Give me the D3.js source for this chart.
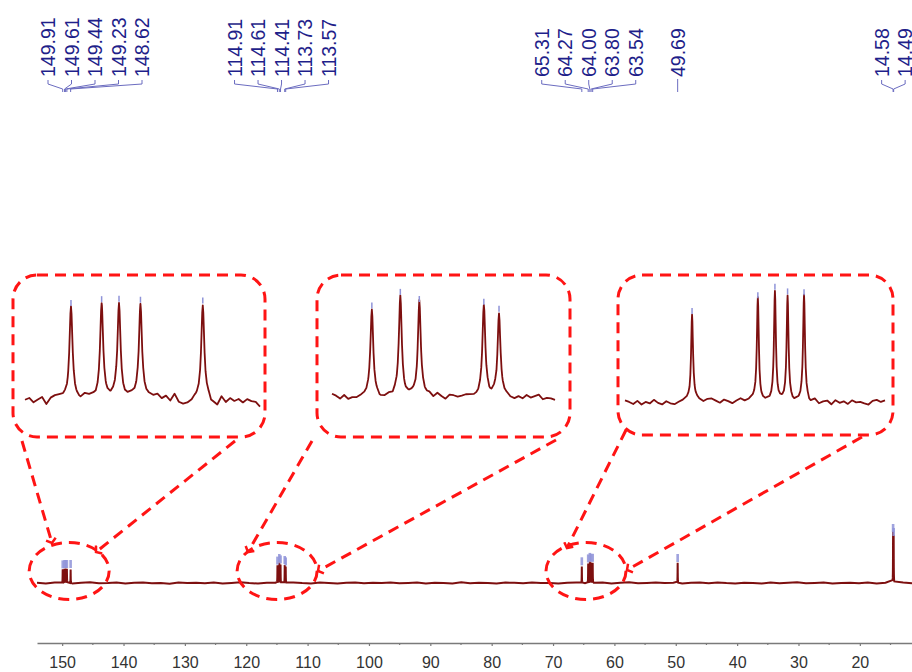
<!DOCTYPE html>
<html>
<head>
<meta charset="utf-8">
<script src="https://cdn.jsdelivr.net/npm/d3@7"></script>
<style>
  body { margin: 0; background: #fff; }
  svg { display: block; font-family: Arial, "Liberation Sans", sans-serif; }
</style>
</head>
<body>
<div id="chart"></div>
<script>
// picked peaks (ppm), intensity, label group
const peakPpm = [149.91, 149.61, 149.44, 149.23, 148.62,
  114.91, 114.61, 114.41, 113.73, 113.57,
  65.31, 64.27, 64.00, 63.80, 63.54,
  49.69,
  14.58, 14.49];
const peakHeight = [13.6, 14, 14, 14, 14,
  17.4, 20, 18.6, 18, 16.6,
  16.7, 19.6, 21.1, 20.2, 20.2,
  20,
  50, 46];
const peakGroup = [0, 0, 0, 0, 0, 1, 1, 1, 1, 1, 2, 2, 2, 2, 2, 3, 4, 4];
const peakLabels = ["149.91", "149.61", "149.44", "149.23", "148.62",
  "114.91", "114.61", "114.41", "113.73", "113.57",
  "65.31", "64.27", "64.00", "63.80", "63.54",
  "49.69",
  "14.58", "14.49"];

const axisTicks = [150, 140, 130, 120, 110, 100, 90, 80, 70, 60, 50, 40, 30, 20];
const minorTicks = [145, 135, 125, 115, 105, 95, 85, 75, 65, 55, 45, 35, 25, 15];

// baseline noise (intensity units)
const noiseMain = [0.2, -0.4, 0.5, 0.1, -0.6, 0.3, 0.8, -0.2, 0.0, 0.4, -0.5, 0.2, 0.6, -0.3, 0.1, -0.7, 0.4, 0.0, 0.3, -0.2,
  0.5, -0.4, 0.1, 0.7, -0.1, -0.5, 0.3, 0.2, -0.3, 0.6, 0.0, -0.4, 0.4, 0.1, -0.6, 0.2, 0.5, -0.2, 0.3, -0.1,
  0.6, -0.3, 0.0, 0.4, -0.5, 0.2, 0.1, -0.4, 0.7, -0.2, 0.3, 0.0, -0.6, 0.4, 0.2, -0.3, 0.5, -0.1, 0.1, -0.5,
  0.3, 0.6, -0.2, 0.0, 0.4, -0.4, 0.2, 0.8, -0.3, 0.1, 0.5, -0.1, 0.3, -0.6, 0.2, 0.4, -0.2, 0.6, 0.0, -0.4,
  0.3, 0.1, -0.5, 0.5, -0.2, 0.2, 0.7, -0.3, 0.0, 0.4, -0.4, 0.1, 0.3, -0.2, 0.5, -0.5, 0.2, 0.0, 0.4, -0.3];
const noiseInset1 = [0, 0.25, -0.4, 0, 0.35, -0.7, 0.2, 0.5, 0.5, 0.3, 0, 0.1, 0, -0.1, 0.6, 0.4, 0.3, 0, 0, 0.1,
  0.1, 0.3, 0, 0, 0.2, 0.5, 0.3, 0, 0.3, 0.4, 0.4, 0.7, 0.1, 0.5, -0.2, 0.8, -0.4, -0.7, -0.6, -0.3,
  0.1, 0, -0.1, 0.1, -0.6, -0.9, 0.4, -0.4, 0.2, -0.2, 0.1, -0.4, 0.1, -0.2, -0.3, -1.0];
const noiseInset2 = [0.6, 0.2, -0.4, 0.3, -0.5, -0.2, -0.3, 0, 0.2, 0.4, 0, 0.1, -0.4, -0.2, 0.3, 0, 0.5, 0.1, 0, 0.2,
  0.4, 0.1, 0.6, 0.3, 0.5, -0.2, 0.6, 0, -0.5, 0.3, 0.2, -0.1, 0.1, 0.3, 0.2, 0, 0, 0.2, 0.5, 0,
  0.4, -0.1, 0.3, 0.2, -0.3, -0.5, 0, -0.4, 0.3, -0.2, 0.1, 0.4, -0.5, -0.2, -0.3, -0.6];
const noiseInset3 = [0.3, 0, -0.4, 0.2, -0.5, 0, -0.3, 0.4, -0.2, -0.5, 0.1, -0.3, -0.5, -0.1, 0.2, 0.4, 0.1, 0.5, 0.3, 0,
  0.5, 0.6, 0.2, -0.2, 0.4, 0.1, -0.3, 0.2, 0.6, 0.1, 0.3, 0.5, 0.4, 0, 0, 0, 0, 0, 0.1, 0,
  0, -0.2, 0.1, 0.3, 0.2, -0.3, 0.4, -0.4, 0, 0.2, -0.5, 0.3, -0.2, 0.1, -0.4, 0.3, -0.1, 0, -0.3, -0.5,
  0.2, 0.4, 0, 0.3];

const width = 912;
const height = 672;
const lineColor = "#7d0f0f";
const pickColor = "#8f93d8";
const labelColor = "#1f1f8a";
const red = "#ff1414";

const svg = d3.select("#chart")
  .append("svg")
  .attr("viewBox", `0 0 ${width} ${height}`)
  .attr("width", width)
  .attr("height", height);

const xScale = d3.scaleLinear().domain([154.1, 11.5]).range([37, 912]);
const yScale = d3.scaleLinear().domain([0, 60]).range([583, 523]);

const hwhm = 0.018; // line half width, ppm
const lorentz = (ppm) => d3.sum(peakPpm, (p, i) => peakHeight[i] / (1 + ((ppm - p) / hwhm) ** 2));
const offsets = [-4.5, -3.2, -2.2, -1.5, -1, -0.6, -0.3, 0, 0.3, 0.6, 1, 1.5, 2.2, 3.2, 4.5];

// noise grid + extra points round each peak, sorted high ppm -> low ppm
function buildTrace(d0, d1, noise) {
  const n = noise.length;
  const step = (d1 - d0) / (n - 1);
  const pts = noise.map((v, i) => ({ ppm: d0 + i * step, noise: v }));
  const lo = Math.min(d0, d1), hi = Math.max(d0, d1);
  peakPpm.forEach((p) => {
    if (p < lo || p > hi) return;
    offsets.forEach((o) => {
      const ppm = p + o * hwhm;
      const k = Math.max(0, Math.min(n - 1, Math.round((ppm - d0) / step)));
      pts.push({ ppm, noise: noise[k] });
    });
  });
  pts.sort((a, b) => b.ppm - a.ppm);
  return pts.map((d) => ({ ppm: d.ppm, v: d.noise + lorentz(d.ppm) }));
}

// ---- axis
const axisG = svg.append("g").attr("transform", "translate(0 643)");
axisG.call(d3.axisBottom(xScale).tickValues(axisTicks).tickSize(3).tickSizeOuter(0).tickPadding(11));
axisG.select(".domain").attr("stroke", "#7a7a7a").attr("stroke-width", 1.6);
axisG.selectAll(".tick line").attr("stroke", "#7a7a7a").attr("stroke-width", 1.2);
axisG.selectAll(".tick text").attr("font-size", 16).attr("fill", "#333").attr("font-family", "Arial, 'Liberation Sans', sans-serif");
axisG.selectAll(".minor")
  .data(minorTicks)
  .enter()
  .append("line")
  .attr("x1", (d) => xScale(d))
  .attr("x2", (d) => xScale(d))
  .attr("y1", 0)
  .attr("y2", 2)
  .attr("stroke", "#7a7a7a")
  .attr("stroke-width", 1.2);

// ---- main spectrum
const mainTrace = buildTrace(154.1, 11.5, noiseMain);
svg.append("path")
  .datum(mainTrace)
  .attr("fill", "none")
  .attr("stroke", lineColor)
  .attr("stroke-width", 2)
  .attr("d", d3.line().x((d) => xScale(d.ppm)).y((d) => yScale(d.v)));

svg.append("g")
  .selectAll("rect")
  .data(peakPpm)
  .enter()
  .append("rect")
  .attr("x", (d) => xScale(d) - 1.3)
  .attr("width", 2.6)
  .attr("y", (d, i) => yScale(peakHeight[i]) - 9)
  .attr("height", 8)
  .attr("fill", pickColor)
  .attr("opacity", 0.85);

// ---- peak labels and brackets
const groups = d3.groups(peakPpm.map((p, i) => ({ p, i, g: peakGroup[i] })), (d) => d.g);
const labelGap = 23.5;
const labelLayer = svg.append("g");
groups.forEach(([g, items]) => {
  const mid = d3.mean(items, (d) => xScale(d.p));
  let start = mid - (labelGap * (items.length - 1)) / 2;
  start = Math.max(start, 48);
  items.forEach((d, k) => {
    const lx = start + k * labelGap;
    const px = xScale(d.p);
    labelLayer.append("text")
      .attr("transform", `translate(${lx} 77) rotate(-90)`)
      .attr("text-anchor", "start")
      .attr("dominant-baseline", "central")
      .attr("font-size", 19.5)
      .attr("fill", labelColor)
      .text(peakLabels[d.i]);
    labelLayer.append("path")
      .attr("fill", "none")
      .attr("stroke", "#6b6cc0")
      .attr("stroke-width", 1)
      .attr("d", items.length === 1
        ? `M${lx},79 L${px},92`
        : `M${lx},80 L${lx},84 L${px},89 L${px},92`);
  });
});

// ---- zoomed insets
const insets = [
  { domain: [150.36, 148.06], range: [25, 260], base: 400, scale: 6.8, noise: noiseInset1, box: [13, 275, 265, 437] },
  { domain: [115.33, 112.98], range: [332, 555], base: 397, scale: 5, noise: noiseInset2, box: [317, 275, 570, 437] },
  { domain: [66.37, 62.26], range: [625, 885], base: 402, scale: 5.2, noise: noiseInset3, box: [618, 275, 893, 435] },
];

insets.forEach((ins) => {
  const xs = d3.scaleLinear().domain(ins.domain).range(ins.range);
  const ys = d3.scaleLinear().domain([0, 1]).range([ins.base, ins.base - ins.scale]);
  const trace = buildTrace(ins.domain[0], ins.domain[1], ins.noise);
  svg.append("path")
    .datum(trace)
    .attr("fill", "none")
    .attr("stroke", lineColor)
    .attr("stroke-width", 1.8)
    .attr("stroke-linejoin", "round")
    .attr("d", d3.line().x((d) => xs(d.ppm)).y((d) => ys(d.v)));

  const inside = peakPpm.map((p, i) => ({ p, i })).filter((d) => d.p <= ins.domain[0] && d.p >= ins.domain[1]);
  svg.append("g")
    .selectAll("line")
    .data(inside)
    .enter()
    .append("line")
    .attr("x1", (d) => xs(d.p))
    .attr("x2", (d) => xs(d.p))
    .attr("y1", (d) => ys(lorentz(d.p)) - 7)
    .attr("y2", (d) => ys(lorentz(d.p)) - 1)
    .attr("stroke", pickColor)
    .attr("stroke-width", 1.5);

  const [x0, y0, x1, y1] = ins.box;
  svg.append("rect")
    .attr("x", x0)
    .attr("y", y0)
    .attr("width", x1 - x0)
    .attr("height", y1 - y0)
    .attr("rx", 24)
    .attr("fill", "none")
    .attr("stroke", red)
    .attr("stroke-width", 3)
    .attr("stroke-dasharray", "11 7");
});

// ---- ellipses round the peak groups and their connectors
const ellipsePpm = [148.86, 114.97, 64.63];
svg.append("g")
  .selectAll("ellipse")
  .data(ellipsePpm)
  .enter()
  .append("ellipse")
  .attr("cx", (d) => xScale(d))
  .attr("cy", 571)
  .attr("rx", 40)
  .attr("ry", 28.5)
  .attr("fill", "none")
  .attr("stroke", red)
  .attr("stroke-width", 3)
  .attr("stroke-dasharray", "11 7");

svg.append("defs")
  .append("marker")
  .attr("id", "bar")
  .attr("viewBox", "-5 -6 10 12")
  .attr("markerUnits", "userSpaceOnUse")
  .attr("markerWidth", 10)
  .attr("markerHeight", 12)
  .attr("orient", "auto")
  .append("path")
  .attr("d", "M-4,-5 L0,0 L-4,5")
  .attr("fill", "none")
  .attr("stroke", red)
  .attr("stroke-width", 2.5);

const connectors = [
  [22, 441, 52, 543], [235, 441, 96, 552],
  [312, 441, 248, 552], [556, 440, 318, 571],
  [626, 430, 567, 548], [862, 437, 627, 570],
];
svg.append("g")
  .selectAll("line")
  .data(connectors)
  .enter()
  .append("line")
  .attr("x1", (d) => d[0])
  .attr("y1", (d) => d[1])
  .attr("x2", (d) => d[2])
  .attr("y2", (d) => d[3])
  .attr("stroke", red)
  .attr("stroke-width", 3)
  .attr("stroke-dasharray", "11 7")
  .attr("marker-end", "url(#bar)");
</script>
</body>
</html>
